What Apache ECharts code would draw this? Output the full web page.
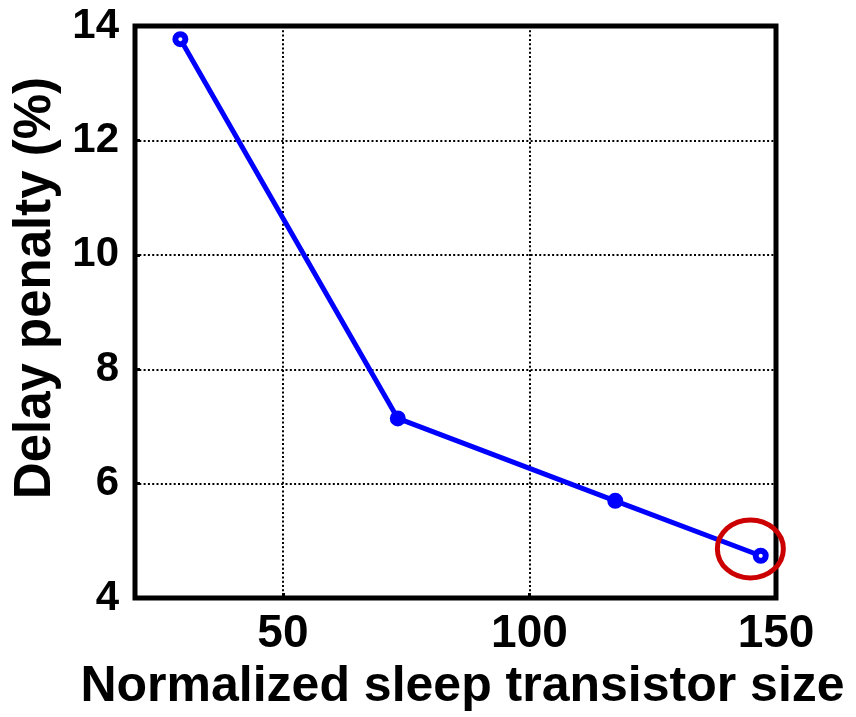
<!DOCTYPE html>
<html>
<head>
<meta charset="utf-8">
<script src="https://cdn.jsdelivr.net/npm/echarts@6/dist/echarts.min.js"></script>
<style>
  html, body { margin: 0; padding: 0; background: #ffffff; }
  #chart { width: 856px; height: 717px; }
</style>
</head>
<body>
<div id="chart"></div>
<script>
// Delay penalty versus normalized sleep transistor size
const sizes = [29.2, 73.3, 117.4, 146.9];
const delayPenalty = [13.77, 7.14, 5.70, 4.74];
const hollowMarker = [true, false, false, true];
const xTicks = [50, 100, 150];
const yTicks = [4, 6, 8, 10, 12, 14];
// highlighted operating point (circled in red)
const highlightPoint = [144.8, 4.86];

const FONT = '"Liberation Sans", Arial, sans-serif';
const BLUE = '#0000ff';

const lineData = sizes.map((x, i) => ({
  value: [x, delayPenalty[i]],
  itemStyle: { color: hollowMarker[i] ? '#ffffff' : BLUE, borderColor: BLUE, borderWidth: 6 }
}));

const chart = echarts.init(document.getElementById('chart'), null, { renderer: 'canvas' });
chart.setOption({
  animation: false,
  backgroundColor: '#ffffff',
  grid: {
    left: 135, right: 80, top: 26, bottom: 117,
    show: true, borderColor: '#000000', borderWidth: 5, backgroundColor: 'transparent'
  },
  xAxis: {
    type: 'value',
    min: 20, max: 150,
    name: 'Normalized sleep transistor size',
    nameLocation: 'middle',
    nameGap: 62,
    nameTextStyle: { fontFamily: FONT, fontWeight: 'bold', fontSize: 50, color: '#000', padding: [0, 0, 0, 14] },
    axisLine: { show: false },
    axisTick: { show: true, inside: true, length: 5, customValues: xTicks, lineStyle: { color: '#000', width: 3 } },
    axisLabel: { customValues: xTicks, fontFamily: FONT, fontWeight: 'bold', fontSize: 46, color: '#000', margin: 13 },
    splitLine: { show: true, lineStyle: { color: '#000', width: 2, type: [2, 2.3] } }
  },
  yAxis: {
    type: 'value',
    min: yTicks[0], max: yTicks[yTicks.length - 1], interval: 2,
    name: 'Delay penalty (%)',
    nameLocation: 'middle',
    nameGap: 72,
    nameTextStyle: { fontFamily: FONT, fontWeight: 'bold', fontSize: 51, color: '#000', padding: [0, 0, 0, 48] },
    axisLine: { show: false },
    axisTick: { show: true, inside: true, length: 5, lineStyle: { color: '#000', width: 3 } },
    axisLabel: { fontFamily: FONT, fontWeight: 'bold', fontSize: 42, color: '#000', margin: 16 },
    splitLine: { show: true, lineStyle: { color: '#000', width: 2, type: [2, 2.3] } }
  },
  series: [
    {
      type: 'line',
      data: lineData,
      symbol: 'circle',
      symbolSize: 10,
      showSymbol: true,
      lineStyle: { color: BLUE, width: 5 },
      z: 3
    },
    {
      type: 'custom',
      data: [highlightPoint],
      z: 4,
      renderItem: function (params, api) {
        const c = api.coord([api.value(0), api.value(1)]);
        return {
          type: 'ellipse',
          shape: { cx: c[0], cy: c[1], rx: 33, ry: 29 },
          style: { fill: 'none', stroke: '#cc0000', lineWidth: 5 }
        };
      }
    }
  ]
});
</script>
</body>
</html>
